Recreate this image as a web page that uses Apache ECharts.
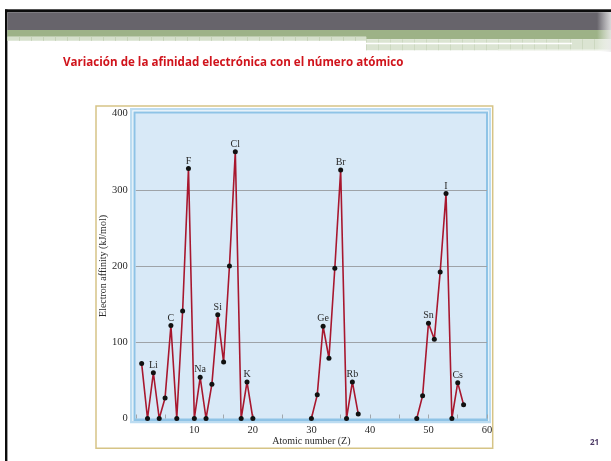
<!DOCTYPE html>
<html>
<head>
<meta charset="utf-8">
<script src="https://cdn.jsdelivr.net/npm/echarts@6/dist/echarts.min.js"></script>
<style>
  html, body { margin: 0; padding: 0; background: #ffffff; }
  #chart { width: 611px; height: 461px; }
</style>
</head>
<body>
<div id="chart"></div>
<script>
// Electron affinity (kJ/mol) against atomic number for Z = 1–20, 30–38, 48–56
const atomicNumbers = [
  1, 2, 3, 4, 5, 6, 7, 8, 9, 10, 11, 12, 13, 14, 15, 16, 17, 18, 19, 20,
  30, 31, 32, 33, 34, 35, 36, 37, 38,
  48, 49, 50, 51, 52, 53, 54, 55, 56
];
const electronAffinities = [
  72, 0, 60, 0, 27, 122, 0, 141, 328, 0, 54, 0, 45, 136, 74, 200, 350, 0, 48, 0,
  0, 31, 121, 79, 197, 326, 0, 48, 6,
  0, 30, 125, 104, 192, 295, 0, 47, 18
];

// Element symbols written above selected points
const labelledZ = [3, 6, 9, 11, 14, 17, 19, 32, 35, 37, 50, 53, 55];
const labelledSymbols = ['Li', 'C', 'F', 'Na', 'Si', 'Cl', 'K', 'Ge', 'Br', 'Rb', 'Sn', 'I', 'Cs'];

// Axis ticks
const yTicks = [0, 100, 200, 300, 400];
const xTickLabels = [10, 20, 30, 40, 50, 60];
const xTickStep = 5;

const SERIF = '"Liberation Serif", "DejaVu Serif", serif';
const LINE_RED = '#a8172e';

// Split the points into runs of consecutive atomic numbers so gaps are not joined
const segments = [];
atomicNumbers.forEach((z, i) => {
  const item = { value: [z, electronAffinities[i]] };
  const k = labelledZ.indexOf(z);
  if (k >= 0) {
    item.label = { show: true, formatter: labelledSymbols[k] };
  }
  if (i === 0 || z - atomicNumbers[i - 1] > 1) segments.push([]);
  segments[segments.length - 1].push(item);
});

const series = segments.map(seg => ({
  type: 'line',
  data: seg,
  symbol: 'circle',
  symbolSize: 5,
  itemStyle: { color: '#111111' },
  lineStyle: { color: LINE_RED, width: 1.6 },
  label: {
    show: false,
    position: 'top',
    distance: 0,
    fontFamily: SERIF,
    fontSize: 10,
    color: '#2a2a2a'
  },
  emphasis: { disabled: true },
  z: 3
}));

// Slide header bands and figure frame
const headerPattern = [];
for (let x = 7; x < 366; x += 12) {
  headerPattern.push({ type: 'rect', shape: { x: x, y: 36.7, width: 1, height: 4 }, style: { fill: '#c4d1b6' }, z: -5 });
}
for (let x = 366; x < 598; x += 12) {
  headerPattern.push({ type: 'rect', shape: { x: x, y: 39.3, width: 1, height: 11 }, style: { fill: '#ccd8c0' }, z: -5 });
}

const graphics = [
  // top and left slide border
  { type: 'rect', shape: { x: 5, y: 9, width: 606, height: 1 }, style: { fill: '#9a9a9a' }, z: -6 },
  { type: 'rect', shape: { x: 5, y: 9.6, width: 606, height: 2.6 }, style: { fill: '#0c0c0c' }, z: -6 },
  { type: 'rect', shape: { x: 5, y: 9.6, width: 2.4, height: 452 }, style: { fill: '#0c0c0c' }, z: -6 },
  // dark bar
  { type: 'rect', shape: { x: 7.4, y: 12.2, width: 604, height: 17.8 }, style: { fill: '#67646b' }, z: -6 },
  // green band, left and right parts
  { type: 'rect', shape: { x: 7.4, y: 30, width: 359, height: 6.7 }, style: { fill: '#9db287' }, z: -6 },
  { type: 'rect', shape: { x: 366, y: 30, width: 245, height: 9.3 }, style: { fill: '#9db287' }, z: -6 },
  // pale patterned strips
  { type: 'rect', shape: { x: 7.4, y: 36.7, width: 359, height: 4 }, style: { fill: '#d6e0cc' }, z: -6 },
  { type: 'rect', shape: { x: 366, y: 39.3, width: 245, height: 11 }, style: { fill: '#dbe4d2' }, z: -6 },
  { type: 'rect', shape: { x: 366, y: 42.7, width: 206, height: 1.6 }, style: { fill: '#ffffff' }, z: -4 },
  { type: 'rect', shape: { x: 498, y: 49.5, width: 113, height: 1.2 }, style: { fill: '#f2f5ee' }, z: -4 },
  // faded right edge of the header
  {
    type: 'rect', shape: { x: 597, y: 12, width: 14, height: 40 },
    style: {
      fill: new echarts.graphic.LinearGradient(0, 0, 1, 0, [
        { offset: 0, color: 'rgba(255,255,255,0)' },
        { offset: 1, color: 'rgba(235,235,235,0.85)' }
      ])
    },
    z: -3
  },
  ...headerPattern,
  // title
  {
    type: 'text', left: 63, top: 56.5,
    style: {
      text: 'Variación de la afinidad electrónica con el número atómico',
      fill: '#d0141c',
      font: 'bold 11.6px "Open Sans", "Noto Sans", sans-serif'
    },
    z: 5
  },
  // page number
  {
    type: 'text', left: 590, top: 438.5,
    style: { text: '21', fill: '#4d3a66', font: 'bold 8px "Open Sans", sans-serif' },
    z: 5
  },
  // figure frame
  { type: 'rect', shape: { x: 96, y: 106, width: 396.7, height: 342.3 }, style: { fill: '#ffffff', stroke: '#d6c486', lineWidth: 1.5 }, z: -6 },
  { type: 'rect', shape: { x: 130, y: 108, width: 361, height: 315.3 }, style: { fill: '#bcdcf1' }, z: -5 },
  { type: 'rect', shape: { x: 132.3, y: 110.3, width: 356.4, height: 310.7 }, style: { fill: '#f4f9fd' }, z: -5 },
  { type: 'rect', shape: { x: 133.5, y: 111.5, width: 354.5, height: 309.5 }, style: { fill: '#8ec3e6' }, z: -5 },
  { type: 'rect', shape: { x: 135.5, y: 113.5, width: 350.5, height: 305 }, style: { fill: '#d8e9f7' }, z: -5 }
];

const chart = echarts.init(document.getElementById('chart'), null, { renderer: 'canvas' });

chart.setOption({
  animation: false,
  backgroundColor: '#ffffff',
  graphic: graphics,
  grid: { left: 135.8, right: 124, top: 113.5, bottom: 42.5 },
  xAxis: {
    type: 'value',
    min: 0,
    max: 60,
    interval: xTickStep,
    name: 'Atomic number (Z)',
    nameLocation: 'middle',
    nameGap: 17.5,
    nameMoveOverlap: false,
    nameTextStyle: { fontFamily: SERIF, fontSize: 10, color: '#2a2a2a' },
    axisLine: { show: false },
    axisTick: { show: true, inside: true, length: 4, lineStyle: { color: '#a0a7ad', width: 1 } },
    axisLabel: {
      margin: 6,
      fontFamily: SERIF,
      fontSize: 10.5,
      color: '#2a2a2a',
      formatter: v => (xTickLabels.indexOf(v) >= 0 ? String(v) : '')
    },
    splitLine: { show: false }
  },
  yAxis: {
    type: 'value',
    min: yTicks[0],
    max: yTicks[yTicks.length - 1],
    interval: yTicks[1] - yTicks[0],
    name: 'Electron affinity (kJ/mol)',
    nameLocation: 'middle',
    nameGap: 27.5,
    nameMoveOverlap: false,
    nameTextStyle: { fontFamily: SERIF, fontSize: 10, color: '#2a2a2a' },
    axisLine: { show: false },
    axisTick: { show: false },
    axisLabel: { margin: 8, fontFamily: SERIF, fontSize: 10.5, color: '#2a2a2a' },
    splitLine: {
      show: true,
      showMinLine: false,
      showMaxLine: false,
      lineStyle: { color: '#9ea3a8', width: 1 }
    }
  },
  series: series
});
</script>
</body>
</html>
